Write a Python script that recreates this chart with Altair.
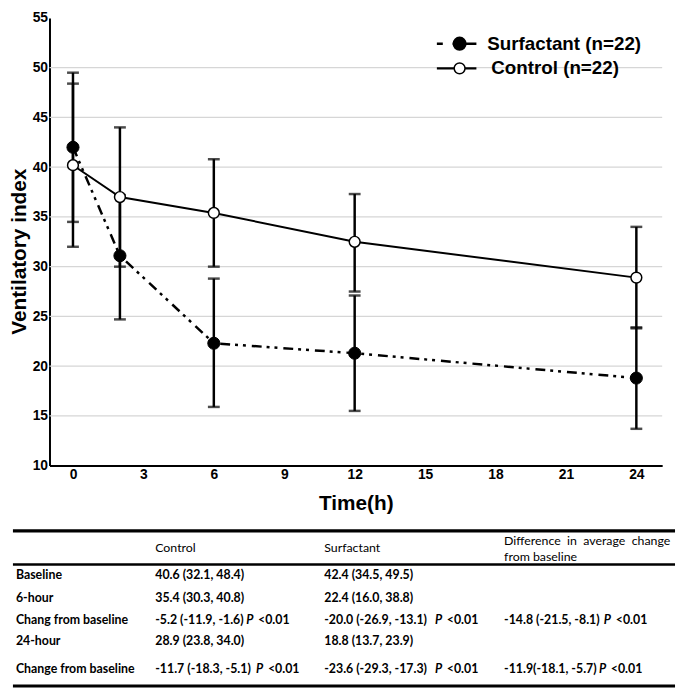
import altair as alt
import pandas as pd

# ---------------- data ----------------
times = [0, 2, 6, 12, 24]
surf_mean = [42.0, 31.1, 22.3, 21.3, 18.8]
surf_lo = [34.5, 24.7, 15.9, 15.5, 13.7]
surf_hi = [49.5, 37.2, 28.8, 27.1, 23.9]
ctrl_mean = [40.2, 37.0, 35.4, 32.5, 28.9]
ctrl_lo = [32.0, 30.0, 30.0, 27.5, 23.8]
ctrl_hi = [48.4, 44.0, 40.8, 37.3, 34.0]
series_names = ["Surfactant (n=22)", "Control (n=22)"]

x_ticks = [0, 3, 6, 9, 12, 15, 18, 21, 24]
y_ticks = [10, 15, 20, 25, 30, 35, 40, 45, 50, 55]
grid_vals = [15, 20, 25, 30, 35, 40, 45, 50]

row_labels = ["Baseline", "6-hour", "Chang from baseline", "24-hour", "Change from baseline"]
control_col = ["40.6 (32.1, 48.4)", "35.4 (30.3, 40.8)", "-5.2 (-11.9, -1.6)",
               "28.9 (23.8, 34.0)", "-11.7 (-18.3, -5.1)"]
surf_col = ["42.4 (34.5, 49.5)", "22.4 (16.0, 38.8)", "-20.0 (-26.9, -13.1)",
            "18.8 (13.7, 23.9)", "-23.6 (-29.3, -17.3)"]
diff_col = ["", "", "-14.8 (-21.5, -8.1)", "", "-11.9(-18.1, -5.7)"]
header_cols = ["Control", "Surfactant"]
NB = "\u00a0" * 2
diff_header = ["Difference" + NB + "in" + NB + "average" + NB + "change", "from baseline"]
p_text = "<0.01"

# ---------------- layout ----------------
W, H = 620, 453
FONT = "Liberation Sans"
TFONT = "Lato"
TSIZE = 12.5

surf = pd.DataFrame({"t": times, "v": surf_mean, "lo": surf_lo, "hi": surf_hi})
ctrl = pd.DataFrame({"t": times, "v": ctrl_mean, "lo": ctrl_lo, "hi": ctrl_hi})

xs = alt.Scale(domain=[-1, 25.1], nice=False, zero=False)
ys = alt.Scale(domain=[10, 55], nice=False, zero=False)

x_axis = alt.Axis(values=x_ticks, grid=False, ticks=False, labelFont=FONT, labelFontSize=14,
                  labelFontWeight="bold", labelColor="black", labelPadding=2,
                  domainColor="black", domainWidth=2, title="Time(h)", titleFont=FONT,
                  titleFontSize=21, titleFontWeight="bold", titleColor="black",
                  titleBaseline="middle", titleY=38)
y_axis = alt.Axis(values=y_ticks, grid=False, ticks=False, labelFont=FONT, labelFontSize=14,
                  labelFontWeight="bold", labelColor="black", labelPadding=2,
                  domainColor="black", domainWidth=2, title="Ventilatory index", titleFont=FONT,
                  titleFontSize=21, titleFontWeight="bold", titleColor="black",
                  titleBaseline="middle", titleX=-30, titleY=236)

grid = alt.Chart(pd.DataFrame({"g": grid_vals})).mark_rule(color="#d6d6d6", strokeWidth=1.2).encode(
    y=alt.Y("g:Q", scale=ys, axis=y_axis)
)

ctrl_line = alt.Chart(ctrl).mark_line(color="black", strokeWidth=2).encode(
    x=alt.X("t:Q", scale=xs, axis=x_axis), y=alt.Y("v:Q", scale=ys)
)
surf_line = alt.Chart(surf).mark_line(color="black", strokeWidth=2.5,
                                      strokeDash=[10, 5, 3, 5, 3, 6]).encode(
    x=alt.X("t:Q", scale=xs), y=alt.Y("v:Q", scale=ys)
)


def bars(df):
    r = alt.Chart(df).mark_rule(color="black", strokeWidth=2.5).encode(
        x=alt.X("t:Q", scale=xs), y=alt.Y("lo:Q", scale=ys), y2="hi:Q")
    c1 = alt.Chart(df).mark_tick(color="black", orient="horizontal", size=12, thickness=2.5).encode(
        x=alt.X("t:Q", scale=xs), y=alt.Y("lo:Q", scale=ys))
    c2 = alt.Chart(df).mark_tick(color="black", orient="horizontal", size=12, thickness=2.5).encode(
        x=alt.X("t:Q", scale=xs), y=alt.Y("hi:Q", scale=ys))
    return [r, c1, c2]


surf_pts = alt.Chart(surf).mark_point(shape="circle", filled=True, fill="black", stroke="black",
                                      strokeWidth=1, size=150, opacity=1).encode(
    x=alt.X("t:Q", scale=xs), y=alt.Y("v:Q", scale=ys))
ctrl_pts = alt.Chart(ctrl).mark_point(shape="circle", filled=True, fill="white", stroke="black",
                                      strokeWidth=1.5, size=120, opacity=1).encode(
    x=alt.X("t:Q", scale=xs), y=alt.Y("v:Q", scale=ys))

# ---------------- legend ----------------
leg_s_line = alt.Chart().mark_rule(color="black", strokeWidth=2.5, strokeDash=[6, 10, 30]).encode(
    x=alt.value(392), x2=alt.value(432), y=alt.value(26))
leg_c_line = alt.Chart().mark_rule(color="black", strokeWidth=2.5).encode(
    x=alt.value(392), x2=alt.value(432), y=alt.value(51))
leg_s_pt = alt.Chart().mark_point(shape="circle", filled=True, fill="black", stroke="black",
                                  size=150, opacity=1).encode(x=alt.value(415), y=alt.value(26))
leg_c_pt = alt.Chart().mark_point(shape="circle", filled=True, fill="white", stroke="black",
                                  strokeWidth=1.5, size=120, opacity=1).encode(x=alt.value(415), y=alt.value(51))
leg_s_txt = alt.Chart().mark_text(text=series_names[0], font=FONT, fontSize=19, fontWeight="bold",
                                  align="left", baseline="middle", color="black").encode(
    x=alt.value(443), y=alt.value(26))
leg_c_txt = alt.Chart().mark_text(text=series_names[1], font=FONT, fontSize=19, fontWeight="bold",
                                  align="left", baseline="middle", color="black").encode(
    x=alt.value(447), y=alt.value(51))

# ---------------- table ----------------
col_x = [-34, 107, 278, 460]
row_y = [564, 587, 609, 631, 659]

cells = []
for i, lab in enumerate(row_labels):
    cells.append({"px": col_x[0], "py": row_y[i], "text": lab})
    cells.append({"px": col_x[1], "py": row_y[i], "text": control_col[i]})
    cells.append({"px": col_x[2], "py": row_y[i], "text": surf_col[i]})
    if diff_col[i]:
        cells.append({"px": col_x[3], "py": row_y[i], "text": diff_col[i]})
cells_df = pd.DataFrame(cells)

hdr_df = pd.DataFrame({"px": [col_x[1], col_x[2], col_x[3], col_x[3]],
                       "py": [536, 536, 529, 546],
                       "text": header_cols + diff_header})

# italic P and the threshold that follows each change value
p_rows = [2, 4]
p_x = {2: [199, 390, 561], 4: [209, 390, 556]}
pp = []
for r in p_rows:
    for k, px in enumerate(p_x[r]):
        pp.append({"px": px, "py": row_y[r], "text": "P", "kind": "P"})
        pp.append({"px": px + 12, "py": row_y[r], "text": p_text, "kind": "t"})
p_df = pd.DataFrame(pp)

rules_df = pd.DataFrame({"y": [519, 553, 676], "w": [3.2, 2.6, 3.2], "x1": [-37] * 3, "x2": [633] * 3})

tbl_rules = alt.Chart(rules_df).mark_rule(color="black").encode(
    x=alt.X("x1:Q", scale=None, axis=None), x2="x2:Q",
    y=alt.Y("y:Q", scale=None, axis=None),
    strokeWidth=alt.StrokeWidth("w:Q", scale=None, legend=None))

tbl_cells = alt.Chart(cells_df).mark_text(font=TFONT, fontSize=TSIZE, fontWeight="bold", align="left",
                                          baseline="middle", color="black").encode(
    x=alt.X("px:Q", scale=None, axis=None), y=alt.Y("py:Q", scale=None, axis=None), text="text:N")
tbl_hdr = alt.Chart(hdr_df).mark_text(font=TFONT, fontSize=TSIZE, fontWeight="normal", align="left",
                                      baseline="middle", color="black").encode(
    x=alt.X("px:Q", scale=None, axis=None), y=alt.Y("py:Q", scale=None, axis=None), text="text:N")
tbl_p = alt.Chart(p_df[p_df.kind == "P"]).mark_text(font=TFONT, fontSize=TSIZE, fontWeight="bold",
                                                    fontStyle="italic", align="left", baseline="middle",
                                                    color="black").encode(
    x=alt.X("px:Q", scale=None, axis=None), y=alt.Y("py:Q", scale=None, axis=None), text="text:N")
tbl_t = alt.Chart(p_df[p_df.kind == "t"]).mark_text(font=TFONT, fontSize=TSIZE, fontWeight="bold",
                                                    align="left", baseline="middle", color="black").encode(
    x=alt.X("px:Q", scale=None, axis=None), y=alt.Y("py:Q", scale=None, axis=None), text="text:N")

layers = [grid, ctrl_line, surf_line] + bars(surf) + bars(ctrl) + [surf_pts, ctrl_pts,
          leg_s_line, leg_c_line, leg_s_pt, leg_c_pt, leg_s_txt, leg_c_txt,
          tbl_rules, tbl_cells, tbl_hdr, tbl_p, tbl_t]

chart = alt.layer(*layers).properties(
    width=W, height=H,
    padding={"left": 42, "top": 6, "right": 15, "bottom": 225},
    autosize=alt.AutoSizeParams(type="none"),
    background="white",
).configure_view(stroke=None)

chart.save("out.html", embed_options={"renderer": "svg", "actions": False})
